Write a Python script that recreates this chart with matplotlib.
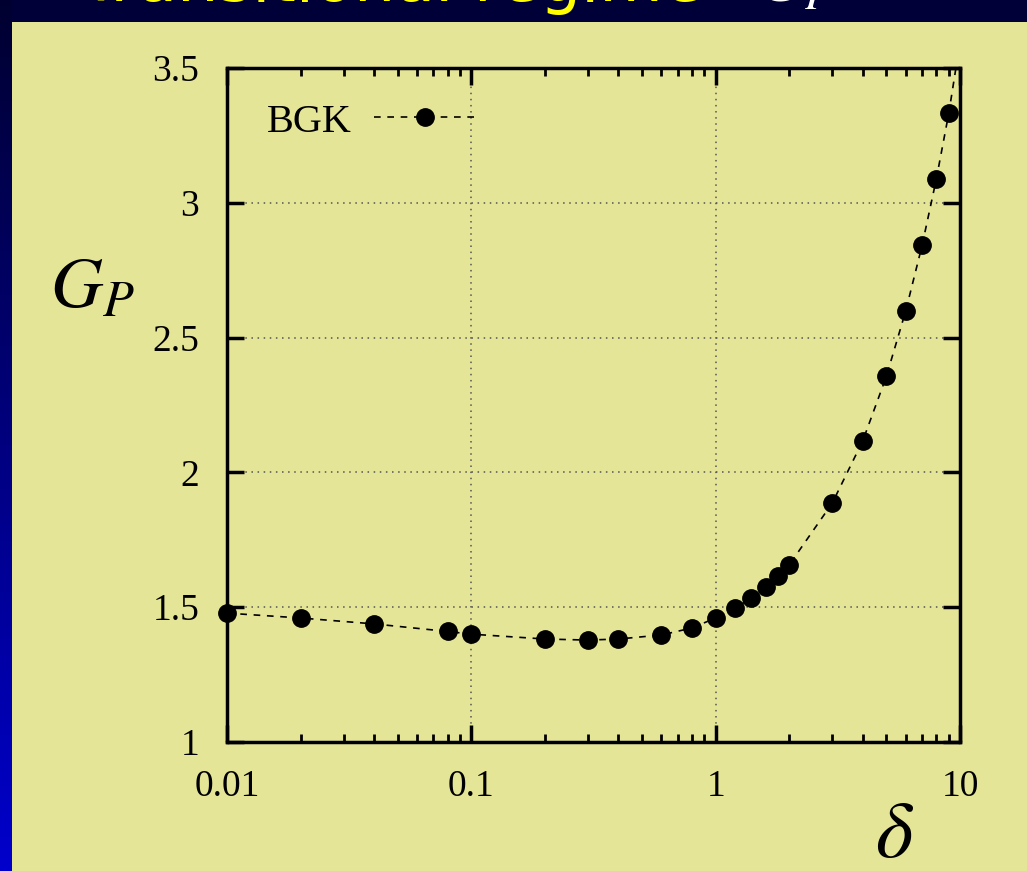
import matplotlib.pyplot as plt
import matplotlib.patches as patches
import numpy as np
from matplotlib.colors import LinearSegmentedColormap

plt.rcParams['font.family'] = ['Liberation Serif', 'DejaVu Serif']
plt.rcParams['mathtext.fontset'] = 'stix'

# BGK data
delta = [0.01, 0.02, 0.04, 0.08, 0.1, 0.2, 0.3, 0.4, 0.6, 0.8, 1.0,
         1.2, 1.4, 1.6, 1.8, 2.0, 3.0, 4.0, 5.0, 6.0, 7.0, 8.0, 9.0]
gp = [1.478, 1.46, 1.438, 1.41, 1.40, 1.382, 1.378, 1.382, 1.397, 1.423, 1.46,
      1.497, 1.534, 1.575, 1.616, 1.657, 1.886, 2.117, 2.357, 2.60, 2.843, 3.088, 3.333]
# the dashed curve runs on past the last point up to the frame
curve_end_x = [9.7]
curve_end_y = [3.52]

xticks = [0.01, 0.1, 1, 10]
xticklabels = ['0.01', '0.1', '1', '10']
yticks = [1, 1.5, 2, 2.5, 3, 3.5]
yticklabels = ['1', '1.5', '2', '2.5', '3', '3.5']

panel = '#e5e598'

fig = plt.figure(figsize=(10.27, 8.71), dpi=100)
fig.patch.set_facecolor('#000038')

# background: blue gradient strip on the left, yellow panel
bg = fig.add_axes([0, 0, 1, 1], zorder=-5)
bg.set_axis_off()
grad = np.linspace(0, 1, 256).reshape(-1, 1)
bg.imshow(grad, aspect='auto', extent=[0, 12, 871, 0],
          cmap=LinearSegmentedColormap.from_list('bl', ['#000030', '#0000cc']))
bg.add_patch(patches.Rectangle((12, 22), 1027, 871, facecolor=panel, edgecolor='none'))
bg.set_xlim(0, 1027)
bg.set_ylim(871, 0)

# cut-off slide title at the top
fig.text(80 / 1027, 1 - 1 / 871, 'Transitional regime', color='#ffff00', fontsize=47,
         family='DejaVu Sans', va='baseline', ha='left')
fig.text(757 / 1027, 1 - 1 / 871, '$G_P$', color='white', fontsize=47, va='baseline', ha='left')

ax = fig.add_axes([227 / 1027, 1 - 742 / 871, (960 - 227) / 1027, (742 - 68) / 871], zorder=2)
ax.set_facecolor('none')

ax.plot(delta + curve_end_x, gp + curve_end_y, color='black', lw=1.2,
        linestyle=(0, (4, 4)), zorder=3)
ax.plot(delta, gp, linestyle='none', marker='o', markersize=12.5, color='black', zorder=4,
        clip_on=False)
ax.plot([], [], color='black', lw=1.2, linestyle=(0, (4, 4)), marker='o', markersize=12.5,
        label='BGK')

ax.set_xscale('log')
ax.set_xlim(0.01, 10)
ax.set_ylim(1, 3.5)
ax.set_xticks(xticks)
ax.set_xticklabels(xticklabels)
ax.set_yticks(yticks)
ax.set_yticklabels(yticklabels)

ax.tick_params(which='major', direction='in', length=12, width=2.5, labelsize=27,
               top=True, right=True, pad=20)
ax.tick_params(which='minor', direction='in', length=6, width=2, top=True, right=False,
               left=False)
ax.tick_params(axis='y', which='minor', left=False, right=False)
for s in ax.spines.values():
    s.set_linewidth(2.5)

ax.grid(True, which='major', color='#555555', lw=1.1, linestyle=(0, (1, 3)))

fig.text(92 / 1027, 1 - 290 / 871, '$G_P$', fontsize=52, ha='center', va='center')
fig.text(895 / 1027, 1 - 857 / 871, r'$\delta$', fontsize=58, ha='center', va='baseline')

leg = ax.legend(loc='center left', bbox_to_anchor=(231 / 1027, 1 - 122 / 871),
                bbox_transform=fig.transFigure, frameon=False, markerfirst=False,
                fontsize=29, handlelength=2.5, handletextpad=0.55)

fig.savefig('out.png', dpi=100, facecolor=fig.get_facecolor())
